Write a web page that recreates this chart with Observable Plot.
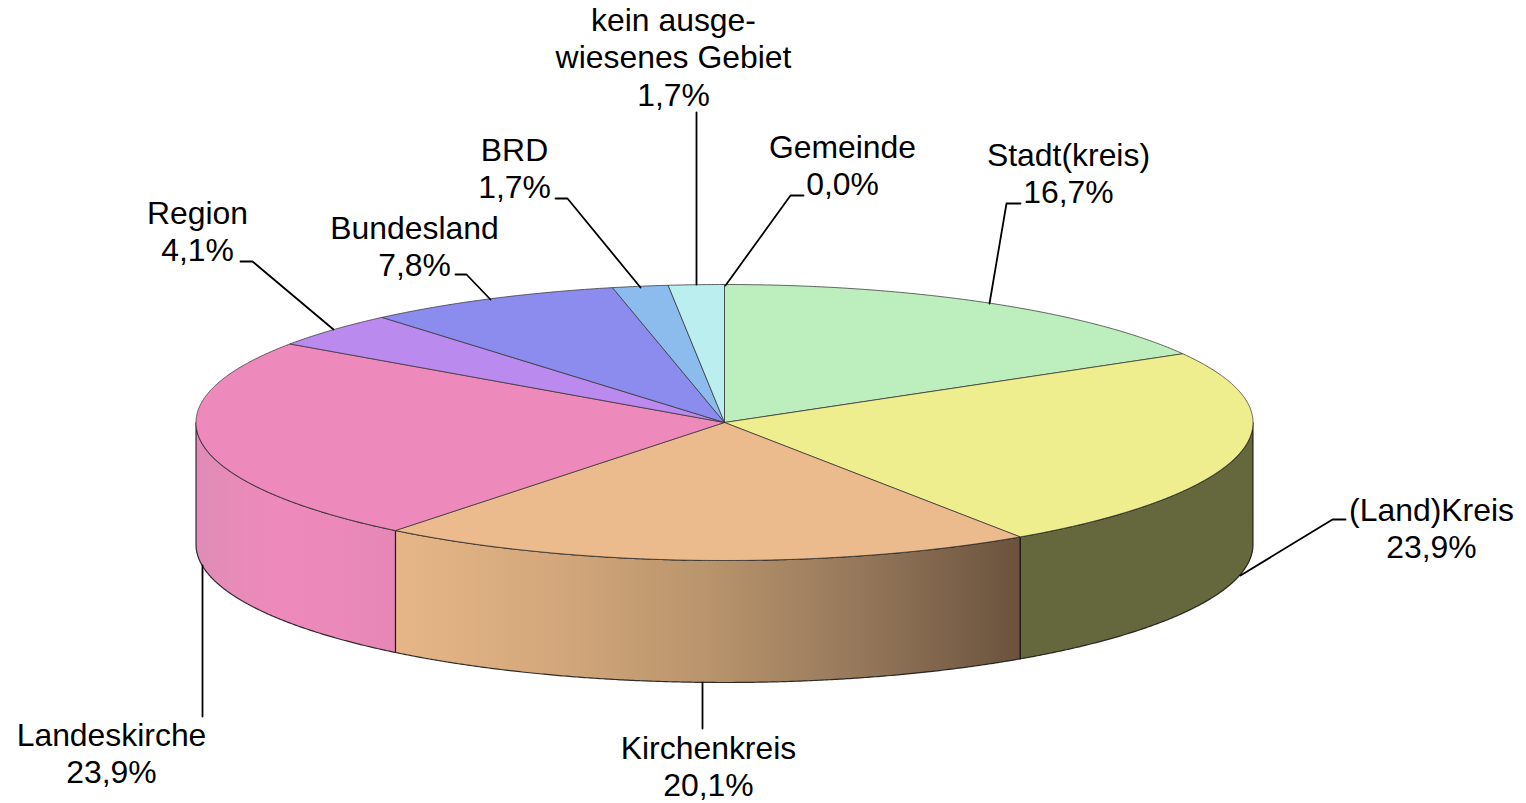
<!DOCTYPE html>
<html>
<head>
<meta charset="utf-8">
<script src="https://cdn.jsdelivr.net/npm/d3@7"></script>
<script src="https://cdn.jsdelivr.net/npm/@observablehq/plot@0.6"></script>
<style>
html,body{margin:0;padding:0;background:#fff;overflow:hidden}
svg{display:block}
</style>
</head>
<body>
<div id="chart"></div>
<script>
// Data, clockwise from twelve o'clock
const categories = ["Gemeinde","Stadt(kreis)","(Land)Kreis","Kirchenkreis","Landeskirche","Region","Bundesland","BRD","kein ausge-\nwiesenes Gebiet"];
const shares = [0.0,16.7,23.85,20.14,23.94,4.14,7.82,1.70,1.70];
const shareLabels = ["0,0%","16,7%","23,9%","20,1%","23,9%","4,1%","7,8%","1,7%","1,7%"];

// Styles
const topColors = ["#bdeebd","#bdeebd","#eeee8e","#ecbb8d","#ee8abb","#bb8aee","#8c8cee","#8cbbee","#bbeeee"];
const sideFills = {
  "(Land)Kreis": "#65673c",
  "Kirchenkreis": "url(#sideKirche)",
  "Landeskirche": "url(#sideLandes)"
};

// Disc geometry of the tilted pie
const cx = 724, cy = 422, rx = 528.5, ry = 138, depth = 122;

// Label layout: centre of each text block and its leader line
const labelCenters = [[842,164],[1068,172],[1431,527],[708,765],[111,752],[197,230],[414,245],[514,167],[673,56]];
const leaders = [
  [[803,195],[790,195],[725,285]],
  [[1020,203],[1006,203],[989,303]],
  [[1345,519],[1332,519],[1240,575]],
  [[702,682],[702,728]],
  [[202,565],[202,716]],
  [[240,261],[252,261],[333,329]],
  [[455,274],[466,274],[490,299]],
  [[555,198],[567,198],[640,287]],
  [[696,112],[696,284]]
];

const total = d3.sum(shares);
let acc = 0;
const slices = categories.map((name,i)=>{
  const start = acc/total*2*Math.PI; acc += shares[i];
  return {name, i, start, end: acc/total*2*Math.PI};
});
const onRim = (a,dy=0)=>({x:cx+rx*Math.sin(a), y:cy-ry*Math.cos(a)+dy});
const arcPts = (a0,a1,dy=0)=>{
  const n = Math.max(2,Math.ceil((a1-a0)/0.005));
  return d3.range(n+1).map(k=>onRim(a0+(a1-a0)*k/n,dy));
};
const topPolygon = s => [{x:cx,y:cy},...arcPts(s.start,s.end),{x:cx,y:cy}];
const sidePolygon = s => {
  const a0 = Math.max(s.start,Math.PI/2), a1 = Math.min(s.end,3*Math.PI/2);
  if (a1<=a0) return null;
  const upper = arcPts(a0,a1), lower = arcPts(a0,a1,depth).reverse();
  return [...upper,...lower,upper[0]];
};

// Horizontal shading of the rim
const gradientDefs = () => {
  const defs = d3.create("svg:defs");
  const add = (id,x1,x2,stops)=>{
    const g = defs.append("linearGradient").attr("id",id).attr("gradientUnits","userSpaceOnUse")
      .attr("x1",x1).attr("x2",x2).attr("y1",0).attr("y2",0);
    stops.forEach(([o,c])=>g.append("stop").attr("offset",o).attr("stop-color",c));
  };
  add("sideKirche",394,1020,[[0,"#e6b687"],[0.25,"#d4a87c"],[0.5,"#b9946c"],[0.75,"#94775a"],[1,"#6a523d"]]);
  add("sideLandes",196,394,[[0,"#de8cb6"],[0.15,"#e68bb8"],[0.4,"#ee8abb"],[0.75,"#ea89b9"],[1,"#e587b6"]]);
  return defs.node();
};

const lineXY = {x:"x",y:"y",curve:"linear"};
const marks = [gradientDefs];
slices.forEach(s=>{
  const poly = sidePolygon(s);
  if (poly) marks.push(Plot.line(poly,{...lineXY,fill:sideFills[s.name],stroke:"#111",strokeWidth:1.2,strokeOpacity:0.85}));
});
slices.forEach(s=>{
  marks.push(Plot.line(topPolygon(s),{...lineXY,fill:topColors[s.i],stroke:"#333",strokeWidth:1,strokeOpacity:0.75}));
});
leaders.forEach(l=>{
  marks.push(Plot.line(l.map(([x,y])=>({x,y})),{...lineXY,stroke:"#000",strokeWidth:1.8}));
});
const labels = categories.map((c,i)=>({text:`${c}\n${shareLabels[i]}`,x:labelCenters[i][0],y:labelCenters[i][1]}));
marks.push(Plot.text(labels,{x:"x",y:"y",text:"text",fontSize:31.9,lineHeight:1.172,fill:"#000",textAnchor:"middle",lineAnchor:"middle",stroke:null}));

const chart = Plot.plot({
  width:1526,height:803,
  margin:0,
  style:{fontFamily:"'Liberation Sans',Arial,sans-serif",background:"#fff",overflow:"visible"},
  x:{domain:[0,1526],range:[0,1526],axis:null},
  y:{domain:[0,803],range:[0,803],axis:null},
  marks
});
document.getElementById("chart").appendChild(chart);
</script>
</body>
</html>
